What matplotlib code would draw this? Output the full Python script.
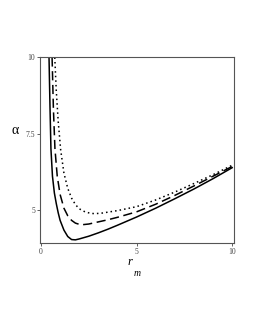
import matplotlib.pyplot as plt

# values
r_solid = [0.42, 0.47, 0.52, 0.6, 0.7, 0.8, 0.9, 1.0, 1.2, 1.4, 1.6, 1.8, 2.0, 2.5, 3, 3.5, 4, 5, 6, 7, 8, 9, 10]
a_solid = [10, 8.4, 7.0, 6.1, 5.55, 5.2, 4.9, 4.65, 4.33, 4.12, 4.02, 4.01, 4.04, 4.13, 4.24, 4.36, 4.49, 4.76, 5.05, 5.36, 5.68, 6.02, 6.38]

r_dash = [0.58, 0.65, 0.73, 0.85, 1.0, 1.2, 1.4, 1.6, 1.8, 2.0, 2.2, 2.5, 3, 3.5, 4, 5, 6, 7, 8, 9, 10]
a_dash = [10, 8.3, 7.0, 6.1, 5.5, 5.05, 4.8, 4.65, 4.56, 4.52, 4.51, 4.53, 4.6, 4.67, 4.75, 4.93, 5.18, 5.47, 5.78, 6.1, 6.42]

r_dot = [0.72, 0.8, 0.9, 1.03, 1.2, 1.4, 1.6, 1.8, 2.0, 2.3, 2.6, 2.83, 3.2, 3.6, 4, 5, 6, 7, 8, 9, 10]
a_dot = [10, 8.9, 7.9, 6.96, 6.2, 5.7, 5.38, 5.17, 5.03, 4.93, 4.88, 4.87, 4.89, 4.93, 4.97, 5.1, 5.32, 5.58, 5.86, 6.15, 6.46]

xticks = [0, 5, 10]
yticks = [5, 7.5, 10]
ytick_labels = ["5", "7.5", "10"]

plt.rcParams["font.family"] = ["Liberation Serif", "DejaVu Serif"]

fig = plt.figure(figsize=(2.55, 3.3), dpi=100)
ax = fig.add_axes([0.157, 0.263, 0.761, 0.563])

ax.plot(r_solid, a_solid, color="black", lw=1.1, ls="-")
ax.plot(r_dash, a_dash, color="black", lw=1.1, ls=(0, (6, 3)))
ax.plot(r_dot, a_dot, color="black", lw=1.1, ls=(0, (1, 2)))

ax.set_xlim(-0.05, 10.1)
ax.set_ylim(3.9, 10)
ax.set_xticks(xticks)
ax.set_xticklabels([str(t) for t in xticks])
ax.set_yticks(yticks)
ax.set_yticklabels(ytick_labels)
ax.tick_params(labelsize=5.5, length=2, width=0.6, pad=1.5, colors="#444444")

for s in ax.spines.values():
    s.set_linewidth(0.8)
    s.set_color("#555555")

fig.text(15 / 255, 1 - 130 / 330, "α", fontsize=10, ha="center", va="center")
fig.text(130 / 255, 1 - 262 / 330, "r", fontsize=9, style="italic", ha="center", va="center")
fig.text(137 / 255, 1 - 273 / 330, "m", fontsize=7, style="italic", ha="center", va="center")

fig.savefig("out.png", dpi=100)
